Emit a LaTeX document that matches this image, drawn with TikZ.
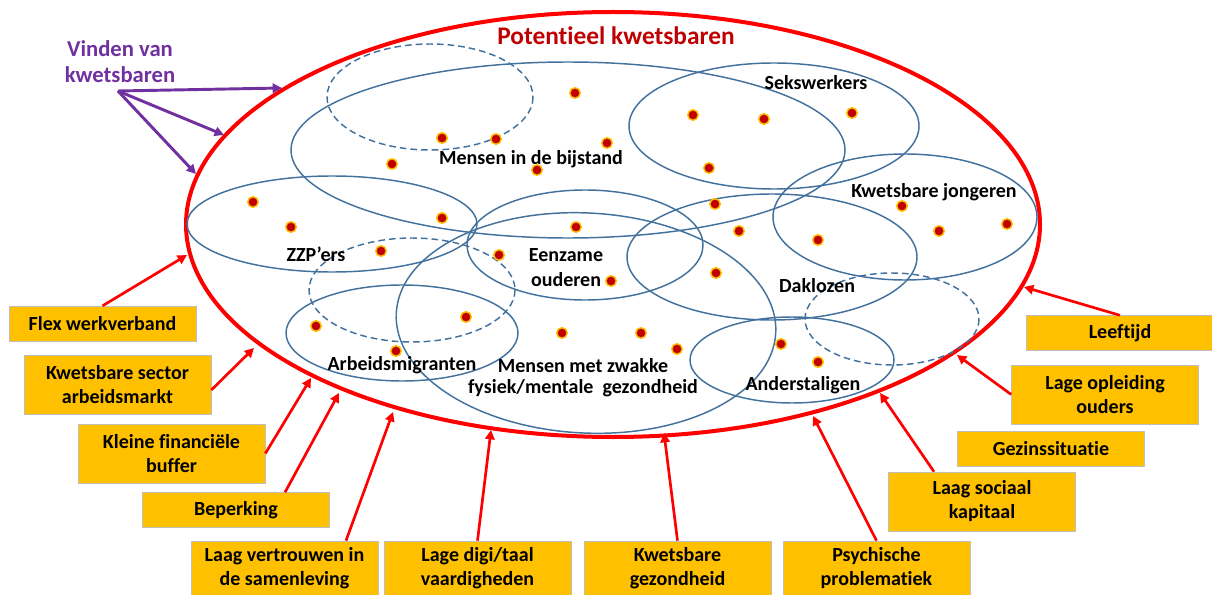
\documentclass[tikz,border=0pt]{standalone}
\usepackage{fontspec}
\setmainfont{Carlito}[Ligatures=NoCommon]
\usetikzlibrary{arrows.meta,calc}
\definecolor{potred}{HTML}{FF0000}
\definecolor{titlered}{HTML}{C00000}
\definecolor{purp}{HTML}{7030A0}
\definecolor{grpblue}{HTML}{41719C}
\definecolor{boxorange}{HTML}{FFC000}
\definecolor{dotred}{HTML}{C00000}
\definecolor{dotring}{HTML}{FFC000}
\newcommand\lblfont{\fontsize{15}{18}\selectfont\bfseries}
\begin{document}
\begin{tikzpicture}[x=0.75pt,y=-0.75pt,
  grp/.style={draw=grpblue,line width=1.1pt},
  grpdash/.style={grp,dash pattern=on 5pt off 3pt},
  potline/.style={draw=potred,line width=3pt},
  gdot/.style={circle,fill=dotred,draw=dotring,line width=1.1pt,inner sep=0pt,minimum size=7.9pt},
  lbl/.style={font=\lblfont,anchor=base,align=center,inner sep=0pt},
  fbox/.style={draw=gray!50,line width=0.5pt,fill=boxorange,minimum width=140.25pt,align=center,inner sep=0pt,font=\lblfont},
  onebox/.style={fbox,minimum height=26pt},
  twobox/.style={fbox,minimum height=44.25pt},
  lowbox/.style={fbox,minimum height=40.5pt},
  redarr/.style={draw=potred,line width=2pt,-{Triangle[length=7pt,width=7pt]}},
  purarr/.style={draw=purp,line width=2.2pt,-{Triangle[length=7pt,width=7pt]}}
]
\useasboundingbox (0,0) rectangle (1212,595);

% outer red ellipse
\draw[potline] (613,224.5) ellipse [x radius=427, y radius=212.5];
\node[font=\fontsize{19}{22}\selectfont\bfseries, text=titlered, anchor=base, inner sep=0pt] (title) at (616,45) {Potentieel kwetsbaren};

% group ellipses
\draw[grpdash] (430,97) ellipse [x radius=103, y radius=53];
\draw[grp] (568,150) ellipse [x radius=277, y radius=88];
\draw[grp] (774,126) ellipse [x radius=145, y radius=63];
\draw[grp] (905,217) ellipse [x radius=132, y radius=63];
\draw[grp] (332,224) ellipse [x radius=145, y radius=48];
\draw[grpdash] (412,290) ellipse [x radius=103, y radius=52];
\draw[grp] (402,333) ellipse [x radius=116, y radius=48];
\draw[grp] (585,245) ellipse [x radius=118, y radius=55];
\draw[grp, rotate around={-3:(586,323)}] (586,323) ellipse [x radius=190, y radius=110];
\draw[grp] (772,257) ellipse [x radius=145, y radius=63];
\draw[grp] (792,360) ellipse [x radius=102, y radius=43];
\draw[grpdash] (892,319) ellipse [x radius=87, y radius=46];

% group labels (anchor base = baseline of the last line)
\node[lbl] (bijstand) at (531,165) {Mensen in de bijstand};
\node[lbl] (seks) at (816,90) {Sekswerkers};
\node[lbl] (jong) at (934,198) {Kwetsbare jongeren};
\node[lbl] (zzp) at (316,261) {ZZP’ers};
\node[lbl] (eenz) at (566,286) {Eenzame\\ouderen};
\node[lbl] (dakl) at (817,292) {Daklozen};
\node[lbl] (arbeid) at (402,370) {Arbeidsmigranten};
\node[lbl] (zwak) at (583,393) {Mensen met zwakke\\[-2.25pt]fysiek/mentale\ \ gezondheid};
\node[lbl] (ander) at (803,390) {Anderstaligen};

% dots
\foreach \p [count=\i] in {(575,93),(442,138),(496,139),(607,143),(392,164),(537,170),(693,115),(764,119),(852,113),(709,168),(253,202),(291,227),(442,218),(576,227),(715,204),(739,231),(902,206),(939,231),(1007,224),(818,240),(381,251),(499,255),(611,281),(716,273),(316,326),(466,317),(396,351),(562,333),(641,333),(677,349),(781,344),(818,362)}
  \node[gdot] (dot\i) at \p {};

% Vinden van kwetsbaren
\node[font=\fontsize{17}{19.5}\selectfont\bfseries, text=purp, anchor=base, align=center, inner sep=0pt] (vinden) at (120,83) {Vinden van\\kwetsbaren};
\coordinate (v0) at (118,91);
\coordinate (v1) at (282,88);
\coordinate (v2) at (224,135);
\coordinate (v3) at (196,174);
\draw[purarr] (v0) -- (v1);
\draw[purarr] (v0) -- (v2);
\draw[purarr] (v0) -- (v3);

% factor boxes
\node[onebox] (flex) at (102.5,323.5) {Flex werkverband};
\node[twobox] (sector) at (117.5,384.5) {Kwetsbare sector\\arbeidsmarkt};
\node[twobox] (buffer) at (171.5,453.5) {Kleine financiële\\buffer};
\node[onebox] (beperk) at (236,510) {Beperking};
\node[lowbox] (vertrouw) at (284.5,568) {Laag vertrouwen in\\de samenleving};
\node[lowbox] (digi) at (477.5,568) {Lage digi/taal\\vaardigheden};
\node[lowbox] (gezond) at (677.5,568) {Kwetsbare\\gezondheid};
\node[lowbox] (psych) at (876.5,568) {Psychische\\problematiek};
\node[twobox] (sociaal) at (982,501.5) {Laag sociaal\\kapitaal};
\node[onebox] (gezin) at (1051,448.5) {Gezinssituatie};
\node[twobox] (opleid) at (1105,394.5) {Lage opleiding\\ouders};
\node[onebox] (leeft) at (1120,333) {Leeftijd};

% arrow targets on the outer ellipse
\coordinate (tflex) at (187,255);
\coordinate (tsector) at (254,348);
\coordinate (tbuffer) at (311,378);
\coordinate (tbeperk) at (339,393);
\coordinate (tvertrouw) at (393,412);
\coordinate (tdigi) at (491,430);
\coordinate (tgezond) at (664,433);
\coordinate (tpsych) at (813,416);
\coordinate (tsociaal) at (880,393);
\coordinate (topleid) at (957,355);
\coordinate (tleeft) at (1024,287);

\draw[redarr] (flex.north) -- (tflex);
\draw[redarr] ($(sector.east)+(0,5.5)$) -- (tsector);
\draw[redarr] (buffer.east) -- (tbuffer);
\draw[redarr] ($(beperk.north)+(49,0)$) -- (tbeperk);
\draw[redarr] ($(vertrouw.north)+(61.5,0)$) -- (tvertrouw);
\draw[redarr] (digi.north) -- (tdigi);
\draw[redarr] (gezond.north) -- (tgezond);
\draw[redarr] (psych.north) -- (tpsych);
\draw[redarr] ($(sociaal.north)+(-48,0)$) -- (tsociaal);
\draw[redarr] (opleid.west) -- (topleid);
\draw[redarr] (leeft.north) -- (tleeft);
\end{tikzpicture}
\end{document}
